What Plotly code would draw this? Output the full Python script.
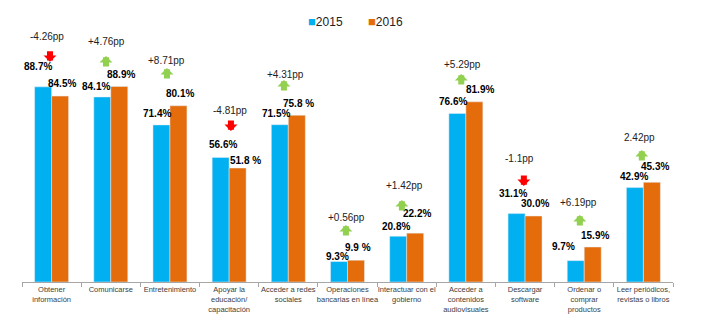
import plotly.graph_objects as go

categories = ["Obtener<br>información", "Comunicarse", "Entretenimiento",
              "Apoyar la<br>educación/<br>capacitación", "Acceder a redes<br>sociales",
              "Operaciones<br>bancarias en línea", "Interactuar con el<br>gobierno",
              "Acceder a<br>contenidos<br>audiovisuales", "Descargar<br>software",
              "Ordenar o<br>comprar<br>productos", "Leer periódicos,<br>revistas o libros"]
v2015 = [88.7, 84.1, 71.4, 56.6, 71.5, 9.3, 20.8, 76.6, 31.1, 9.7, 42.9]
v2016 = [84.5, 88.9, 80.1, 51.8, 75.8, 9.9, 22.2, 81.9, 30.0, 15.9, 45.3]
lab2015 = ["88.7%", "84.1%", "71.4%", "56.6%", "71.5%", "9.3%", "20.8%", "76.6%", "31.1%", "9.7%", "42.9%"]
lab2016 = ["84.5%", "88.9%", "80.1%", "51.8 %", "75.8 %", "9.9 %", "22.2%", "81.9%", "30.0%", "15.9%", "45.3%"]
changes = ["-4.26pp", "+4.76pp", "+8.71pp", "-4.81pp", "+4.31pp", "+0.56pp",
           "+1.42pp", "+5.29pp", "-1.1pp", "+6.19pp", "2.42pp"]
direction = [-1, 1, 1, -1, 1, 1, 1, 1, -1, 1, 1]
series_names = ["2015", "2016"]

# label placement (pixels) - style only
dx15 = [-13.6, -14.8, -13, -6.2, -12.4, -9.6, -10.8, -13, -12.2, -20.4, -9.6]
dy15 = [19.9, 10, 11, 12.5, 11.7, 5.5, 10, 11.5, 19.6, 13.7, 11.6]
dx16 = [10.4, 10.2, 10, 16.8, 10.6, 10.4, 10.2, 14, 9.8, 10.6, 11.4]
dy16 = [13, 12.4, 11.8, 8, 12, 13, 20, 12, 13, 12, 16]
arr_dx = [-1.6, -4.8, -3, 1.8, -4.4, -1.6, -4.8, -4.6, -1.2, -4.4, -1.6]
arr_dy = [25, 18.4, 25.8, 26.5, 23.2, 23.2, 21.2, 15.8, 27.6, 20, 20.3]
txt_dx = [-4.6, -3.8, -3, 0.8, -2.4, -0.6, -1.8, -3.6, -5.2, -5.4, -3.6]
txt_dy = [50, 45.4, 44.8, 46.5, 41.2, 43.2, 47.2, 37.8, 54.6, 45, 45.3]

BLUE = "#00B0F0"
ORANGE = "#E46C0A"
GREEN = "#92D050"
RED = "#FF0000"
FONT = "Liberation Sans, Arial, sans-serif"

fig = go.Figure()
fig.add_trace(go.Bar(x=categories, y=v2015, name=series_names[0], marker_color=BLUE, showlegend=False))
fig.add_trace(go.Bar(x=categories, y=v2016, name=series_names[1], marker_color=ORANGE, showlegend=False))

ann = []
for i in range(len(categories)):
    ann.append(dict(x=i, y=v2015[i], xref="x", yref="y", text="<b>" + lab2015[i] + "</b>", showarrow=False,
                    xshift=dx15[i], yshift=dy15[i], font=dict(size=10, color="#000", family=FONT),
                    xanchor="center", yanchor="middle"))
    ann.append(dict(x=i, y=v2016[i], xref="x", yref="y", text="<b>" + lab2016[i] + "</b>", showarrow=False,
                    xshift=dx16[i], yshift=dy16[i], font=dict(size=10, color="#000", family=FONT),
                    xanchor="center", yanchor="middle"))
    top = max(v2015[i], v2016[i])
    ann.append(dict(x=i, y=top, xref="x", yref="y", text=changes[i], showarrow=False,
                    xshift=txt_dx[i], yshift=txt_dy[i], font=dict(size=10, color="#222", family=FONT),
                    xanchor="center", yanchor="middle"))
    if direction[i] > 0:
        tip_shift = arr_dy[i] + 12
        ay = 12
        col = GREEN
    else:
        tip_shift = arr_dy[i]
        ay = -12
        col = RED
    ann.append(dict(x=i, y=top, xref="x", yref="y", text="", showarrow=True,
                    xshift=arr_dx[i], yshift=tip_shift, ax=0, ay=ay, axref="pixel", ayref="pixel",
                    arrowhead=1, arrowwidth=6, arrowsize=0.36, arrowcolor=col, standoff=0))

# legend drawn as text
for name, col, lx in [(series_names[0], BLUE, 0.466), (series_names[1], ORANGE, 0.558)]:
    ann.append(dict(x=lx, y=1.182, xref="paper", yref="paper", showarrow=False,
                    text="<span style='color:%s;font-size:13px'>■</span>%s" % (col, name),
                    font=dict(size=12, color="#222", family=FONT), xanchor="center", yanchor="middle"))

fig.update_layout(
    width=702, height=333,
    margin=dict(l=22, r=29, t=62, b=51),
    paper_bgcolor="white", plot_bgcolor="white",
    barmode="group", bargap=0.426, bargroupgap=0,
    showlegend=False,
    font=dict(family=FONT),
    annotations=ann,
)
fig.update_xaxes(showline=True, linecolor="#A6A6A6", linewidth=1, ticks="outside", tickson="boundaries",
                 ticklen=4, tickcolor="#A6A6A6", tickfont=dict(size=7.5, color="#404040", family=FONT),
                 showgrid=False, tickangle=0)
fig.update_yaxes(range=[0, 100], visible=False, showgrid=False)

fig.write_html("out.html")
